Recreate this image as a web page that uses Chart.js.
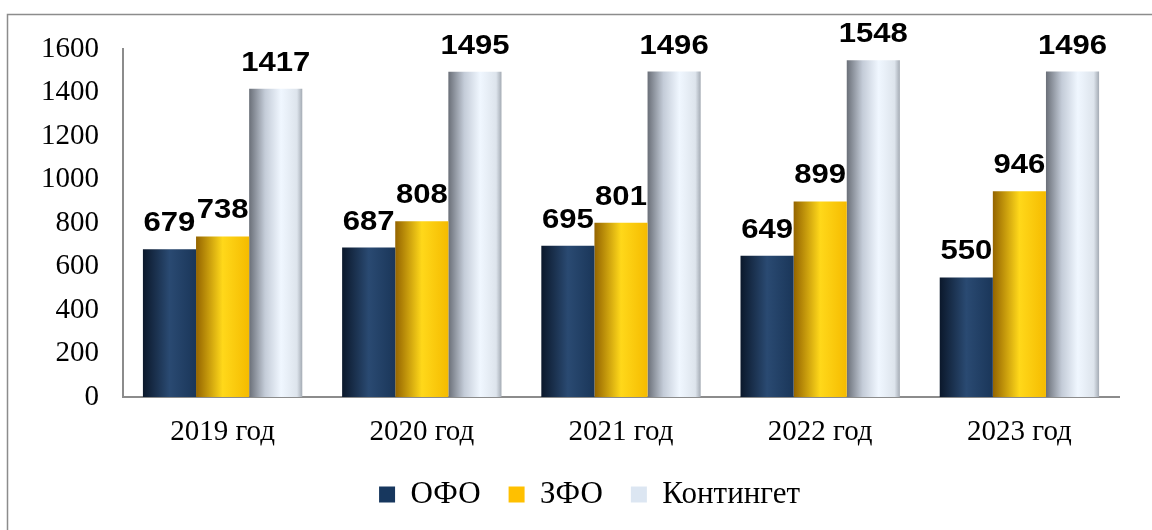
<!DOCTYPE html>
<html>
<head>
<meta charset="utf-8">
<script src="https://cdn.jsdelivr.net/npm/chart.js@4.4.1/dist/chart.umd.min.js"></script>
<style>
  html, body { margin: 0; padding: 0; background: #fff; }
  canvas { display: block; }
</style>
</head>
<body>
<canvas id="bar-chart" width="1152" height="530"></canvas>
<script>
var years = ['2019 год', '2020 год', '2021 год', '2022 год', '2023 год'];
var ofo = [679, 687, 695, 649, 550];
var zfo = [738, 808, 801, 899, 946];
var contingent = [1417, 1495, 1496, 1548, 1496];
var yTicks = [0, 200, 400, 600, 800, 1000, 1200, 1400, 1600];

var CAT_PCT = 0.8;

// colour stops for the "cylinder" shading of each series
var shades = [
    { solid: '#17375e', stops: [[0, '#0b182b'], [0.5, '#2a4a72'], [1, '#1a3659']] },
    { solid: '#ffc000', stops: [[0, '#946400'], [0.5, '#ffd81a'], [1, '#f5bb00']] },
    { solid: '#dce6f2', stops: [[0, '#6a6f78'], [0.3, '#c4ccd8'], [0.6, '#f0f7ff'], [0.9, '#dde4ec'], [1, '#a4abb4']] }
];

function barFill(c) {
    var s = shades[c.datasetIndex];
    if (c.type !== 'data') return s.solid;
    var chart = c.chart;
    var x = chart.scales.x;
    if (!x || !chart.chartArea) return s.solid;
    var n = chart.data.datasets.length;
    var catW = (x.right - x.left) / chart.data.labels.length;
    var bw = catW * CAT_PCT / n;
    var left = x.getPixelForValue(c.dataIndex) - bw * n / 2 + bw * c.datasetIndex;
    var g = chart.ctx.createLinearGradient(left, 0, left + bw, 0);
    s.stops.forEach(function (st) { g.addColorStop(st[0], st[1]); });
    return g;
}

var frame = {
    id: 'frame',
    beforeDraw: function (chart) {
        var ctx = chart.ctx;
        ctx.save();
        ctx.strokeStyle = '#8c8c8c';
        ctx.lineWidth = 1.5;
        ctx.strokeRect(7.5, 14.5, 1300, 700);
        ctx.restore();
    },
    afterLayout: function (chart) {
        // legend in the original sits a bit right of centre
        chart.legend.left += 30;
        chart.legend.right += 30;
    }
};

var valueLabels = {
    id: 'valueLabels',
    afterDatasetsDraw: function (chart) {
        var ctx = chart.ctx;
        ctx.save();
        ctx.font = 'bold 27px "Liberation Sans", Arial, sans-serif';
        ctx.fillStyle = '#000';
        ctx.textAlign = 'center';
        ctx.textBaseline = 'alphabetic';
        chart.data.datasets.forEach(function (ds, i) {
            chart.getDatasetMeta(i).data.forEach(function (bar, j) {
                ctx.save();
                ctx.translate(bar.x, bar.y - 18);
                ctx.scale(1.15, 1);
                ctx.fillText(String(ds.data[j]), 0, 0);
                ctx.restore();
            });
        });
        ctx.restore();
    }
};

function series(label, data) {
    return {
        label: label,
        data: data,
        backgroundColor: barFill,
        borderWidth: 0,
        categoryPercentage: CAT_PCT,
        barPercentage: 1
    };
}

new Chart(document.getElementById('bar-chart'), {
    type: 'bar',
    data: {
        labels: years,
        datasets: [
            series('ОФО', ofo),
            series('ЗФО', zfo),
            series('Контингет', contingent)
        ]
    },
    options: {
        responsive: false,
        animation: false,
        devicePixelRatio: 1,
        layout: { padding: { left: 0, right: 33, top: 49, bottom: 10 } },
        scales: {
            x: {
                grid: { display: false, drawTicks: false },
                border: { display: true, color: '#8c8c8c', width: 2 },
                ticks: {
                    color: '#000',
                    padding: 18,
                    font: { family: '"Liberation Serif", "Times New Roman", serif', size: 29 }
                },
                afterFit: function (s) { s.height = 54; }
            },
            y: {
                min: 0,
                max: 1600,
                afterBuildTicks: function (s) { s.ticks = yTicks.map(function (v) { return { value: v }; }); },
                grid: { display: false, drawTicks: false },
                border: { display: true, color: '#8c8c8c', width: 2 },
                ticks: {
                    color: '#000',
                    padding: 24,
                    font: { family: '"Liberation Serif", "Times New Roman", serif', size: 29 },
                    callback: function (v) { return String(v); }
                },
                afterFit: function (s) { s.width = 123; }
            }
        },
        plugins: {
            tooltip: { enabled: false },
            legend: {
                position: 'bottom',
                labels: {
                    color: '#000',
                    boxWidth: 16,
                    boxHeight: 16,
                    padding: 28,
                    font: { family: '"Liberation Serif", "Times New Roman", serif', size: 31 },
                    generateLabels: function (chart) {
                        return chart.data.datasets.map(function (ds, i) {
                            return {
                                text: ds.label,
                                fillStyle: shades[i].solid,
                                strokeStyle: shades[i].solid,
                                lineWidth: 0,
                                fontColor: '#000',
                                datasetIndex: i,
                                hidden: false
                            };
                        });
                    }
                }
            }
        }
    },
    plugins: [frame, valueLabels]
});
</script>
</body>
</html>
